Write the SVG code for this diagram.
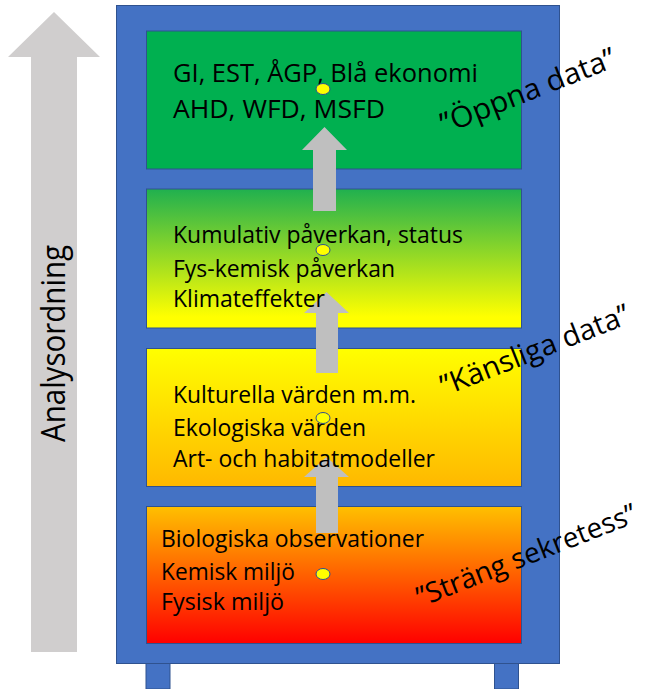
<svg xmlns="http://www.w3.org/2000/svg" width="648" height="689" viewBox="0 0 648 689">
  <defs>
    <linearGradient id="g2" x1="0" y1="0" x2="0" y2="1">
      <stop offset="0" stop-color="#20b04f"/>
      <stop offset="0.92" stop-color="#ffff00"/>
      <stop offset="1" stop-color="#ffff00"/>
    </linearGradient>
    <linearGradient id="g3" x1="0" y1="0" x2="0" y2="1">
      <stop offset="0" stop-color="#ffff00"/>
      <stop offset="1" stop-color="#ffb800"/>
    </linearGradient>
    <linearGradient id="g4" x1="0" y1="0" x2="0" y2="1">
      <stop offset="0" stop-color="#ffc000"/>
      <stop offset="1" stop-color="#ff0000"/>
    </linearGradient>
    <style>
      .blue { fill: #4472c4; stroke: #2f528f; stroke-width: 1; }
      .shelf { stroke: #2f528f; stroke-width: 1; }
      .txt { font-family: "Open Sans", "Noto Sans", sans-serif; fill: #000; }
      .t1 { font-size: 25px; }
      .t2 { font-size: 23px; }
      .rot { font-size: 29px; }
      .arrow { fill: #bfbfbf; }
      .dot { fill: #ffff00; stroke: #2f528f; stroke-width: 1; }
    </style>
  </defs>

  <g id="order-arrow">
    <polygon points="54,12 100,57 77,57 77,652 31,652 31,57 8,57" fill="#d0cece"/>
    <text class="txt" x="0" y="0" font-size="32" transform="translate(65,442) rotate(-90)" textLength="197" lengthAdjust="spacingAndGlyphs">Analysordning</text>
  </g>

  <g id="cabinet">
    <rect class="blue" x="146" y="663" width="24" height="26"/>
    <rect class="blue" x="494.5" y="663" width="24" height="26"/>
    <rect class="blue" x="116.5" y="5.5" width="443" height="658"/>
  </g>

  <g id="shelf-1"><rect class="shelf" x="146.5" y="31" width="375" height="138" fill="#00b050"/></g>
  <g id="shelf-2"><rect class="shelf" x="146.5" y="189" width="375" height="139" fill="url(#g2)"/></g>
  <g id="shelf-3"><rect class="shelf" x="146.5" y="348.5" width="375" height="138" fill="url(#g3)"/></g>
  <g id="shelf-4"><rect class="shelf" x="146.5" y="506.5" width="375" height="137" fill="url(#g4)"/></g>

  <g id="connectors">
    <polygon class="arrow" points="324.5,127 347,150 336,150 336,211 313,211 313,150 302,150"/>
    <polygon class="arrow" points="326.5,292 349,313 338,313 338,373 316,373 316,313 304,313"/>
    <polygon class="arrow" points="326.5,457 349,477 338,477 338,533 316,533 316,477 304,477"/>
  </g>

  <g id="shelf-1-text" class="txt t1">
    <text x="173" y="82" textLength="305" lengthAdjust="spacingAndGlyphs">GI, EST, ÅGP, Blå ekonomi</text>
    <text x="173" y="118" textLength="212" lengthAdjust="spacingAndGlyphs">AHD, WFD, MSFD</text>
    <ellipse class="dot" cx="323" cy="89" rx="7" ry="5.5"/>
  </g>
  <g id="shelf-2-text" class="txt t2">
    <text x="173" y="243" textLength="290" lengthAdjust="spacingAndGlyphs">Kumulativ påverkan, status</text>
    <text x="173" y="277" textLength="222" lengthAdjust="spacingAndGlyphs">Fys-kemisk påverkan</text>
    <text x="173" y="307" textLength="152" lengthAdjust="spacingAndGlyphs">Klimateffekter</text>
    <ellipse class="dot" cx="323" cy="250" rx="7" ry="5.5"/>
  </g>
  <g id="shelf-3-text" class="txt t2">
    <text x="173" y="403" textLength="243" lengthAdjust="spacingAndGlyphs">Kulturella värden m.m.</text>
    <text x="173" y="436" textLength="193" lengthAdjust="spacingAndGlyphs">Ekologiska värden</text>
    <text x="173" y="467" textLength="262" lengthAdjust="spacingAndGlyphs">Art- och habitatmodeller</text>
    <ellipse class="dot" cx="323" cy="418" rx="7" ry="5.5"/>
  </g>
  <g id="shelf-4-text" class="txt t2">
    <text x="161" y="547" textLength="263" lengthAdjust="spacingAndGlyphs">Biologiska observationer</text>
    <text x="161" y="580" textLength="134" lengthAdjust="spacingAndGlyphs">Kemisk miljö</text>
    <text x="161" y="610" textLength="123" lengthAdjust="spacingAndGlyphs">Fysisk miljö</text>
    <ellipse class="dot" cx="323" cy="574" rx="7" ry="5.5"/>
  </g>

  <g id="labels" class="txt rot">
    <text transform="translate(445,134) rotate(-21.5)" textLength="186" lengthAdjust="spacingAndGlyphs">”Öppna data”</text>
    <text transform="translate(445,396) rotate(-21.5)" textLength="201" lengthAdjust="spacingAndGlyphs">”Känsliga data”</text>
    <text transform="translate(421,607) rotate(-21.5)" font-size="28" textLength="234" lengthAdjust="spacingAndGlyphs">”Sträng sekretess”</text>
  </g>
</svg>
